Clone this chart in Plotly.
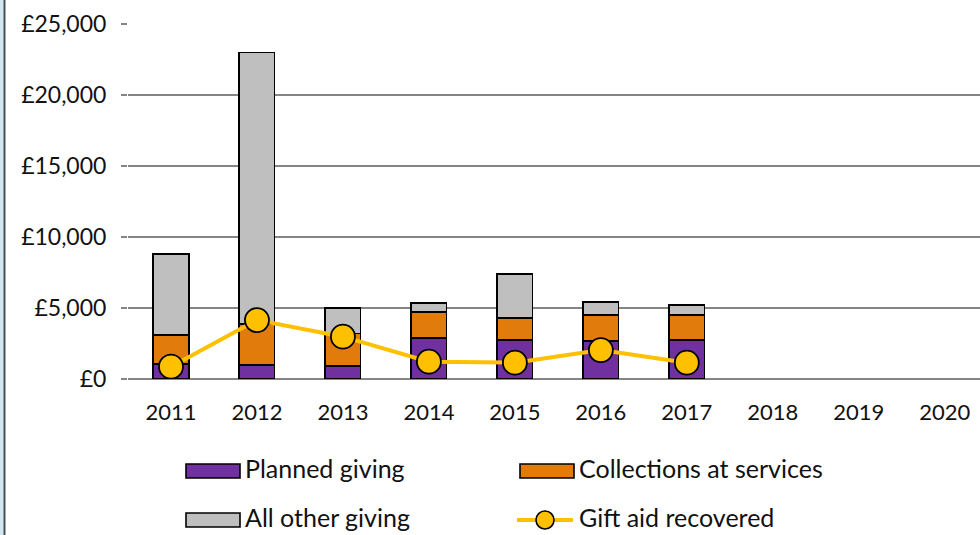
import plotly.graph_objects as go

years = ["2011", "2012", "2013", "2014", "2015", "2016", "2017", "2018", "2019", "2020"]
planned_giving = [1050, 960, 940, 2870, 2770, 2700, 2750, None, None, None]
collections = [2070, 2940, 2270, 1830, 1550, 1800, 1740, None, None, None]
other_giving = [5680, 19100, 1800, 630, 3100, 900, 710, None, None, None]
gift_aid = [870, 4150, 2980, 1220, 1150, 2040, 1150, None, None, None]
y_ticks = [0, 5000, 10000, 15000, 20000, 25000]
y_tick_labels = ["£0", "£5,000", "£10,000", "£15,000", "£20,000", "£25,000"]

PURPLE = "#7030A0"
ORANGE = "#E07B0C"
GREY = "#BFBFBF"
GOLD = "#FFC000"
FONT = "Lato"

W, H = 980, 535
L, R, T, B = 128, 0, 24, 156
PW, PH = W - L - R, H - T - B


def px(x):
    return (x - L) / PW


def py(y):
    return (H - B - y) / PH


fig = go.Figure()
bar_line = dict(color="black", width=1.8)
fig.add_trace(go.Bar(x=years, y=planned_giving, name="Planned giving",
                     marker=dict(color=PURPLE, line=bar_line)))
fig.add_trace(go.Bar(x=years, y=collections, name="Collections at services",
                     marker=dict(color=ORANGE, line=bar_line)))
fig.add_trace(go.Bar(x=years, y=other_giving, name="All other giving",
                     marker=dict(color=GREY, line=bar_line)))
fig.add_trace(go.Scatter(x=years, y=gift_aid, name="Gift aid recovered",
                         mode="lines+markers",
                         line=dict(color=GOLD, width=4),
                         marker=dict(color=GOLD, size=24,
                                     line=dict(color="black", width=1.8))))

shapes = []
annotations = []
# frame on the left
shapes.append(dict(type="rect", xref="paper", yref="paper",
                   x0=px(0), x1=px(4), y0=py(H), y1=py(0),
                   fillcolor="#D3E8EE", line=dict(width=0), layer="below"))
shapes.append(dict(type="line", xref="paper", yref="paper",
                   x0=px(4.5), x1=px(4.5), y0=py(H), y1=py(0),
                   line=dict(color="#4A4F55", width=2)))

# manual legend
legend_items = [
    ("Planned giving", PURPLE, 186, 471, "rect"),
    ("Collections at services", ORANGE, 520, 471, "rect"),
    ("All other giving", GREY, 186, 520, "rect"),
    ("Gift aid recovered", GOLD, 520, 520, "line"),
]
for label, color, x0, yc, kind in legend_items:
    if kind == "rect":
        shapes.append(dict(type="rect", xref="paper", yref="paper",
                           x0=px(x0), x1=px(x0 + 54), y0=py(yc - 7), y1=py(yc + 7),
                           fillcolor=color, line=dict(color="black", width=1.6)))
    else:
        shapes.append(dict(type="line", xref="paper", yref="paper",
                           x0=px(x0 - 3), x1=px(x0 + 53), y0=py(yc), y1=py(yc),
                           line=dict(color=color, width=4)))
        shapes.append(dict(type="circle", xref="paper", yref="paper",
                           x0=px(x0 + 16), x1=px(x0 + 34), y0=py(yc - 9), y1=py(yc + 9),
                           fillcolor=color, line=dict(color="black", width=1.6)))
    annotations.append(dict(text=label, xref="paper", yref="paper",
                            x=px(x0 + 57), y=py(yc - 3), xanchor="left", yanchor="middle",
                            showarrow=False, font=dict(family=FONT, size=25, color="#111111")))

fig.update_layout(
    width=W, height=H,
    margin=dict(l=L, r=R, t=T, b=B, pad=0),
    paper_bgcolor="white", plot_bgcolor="white",
    barmode="stack", bargap=0.59,
    showlegend=False,
    font=dict(family=FONT, size=22, color="#111111"),
    xaxis=dict(type="category", range=[-0.5, 9.41], showgrid=False,
               showline=False, ticks="", tickfont=dict(family=FONT, size=22, color="#111111"),
               ticklabelstandoff=18),
    yaxis=dict(range=[0, 25000], tickvals=y_ticks, ticktext=y_tick_labels,
               showgrid=True, gridcolor="#858585", gridwidth=1.6,
               zeroline=True, zerolinecolor="#858585", zerolinewidth=1.6,
               ticks="outside", ticklen=6, tickcolor="#858585", tickwidth=1.6,
               ticklabelstandoff=10, showline=False,
               tickfont=dict(family=FONT, size=23, color="#111111")),
    shapes=shapes,
    annotations=annotations,
)

fig.write_html("out.html", config={"displayModeBar": False},
               post_script="document.body.style.margin='0px';document.body.style.overflow='hidden';")
